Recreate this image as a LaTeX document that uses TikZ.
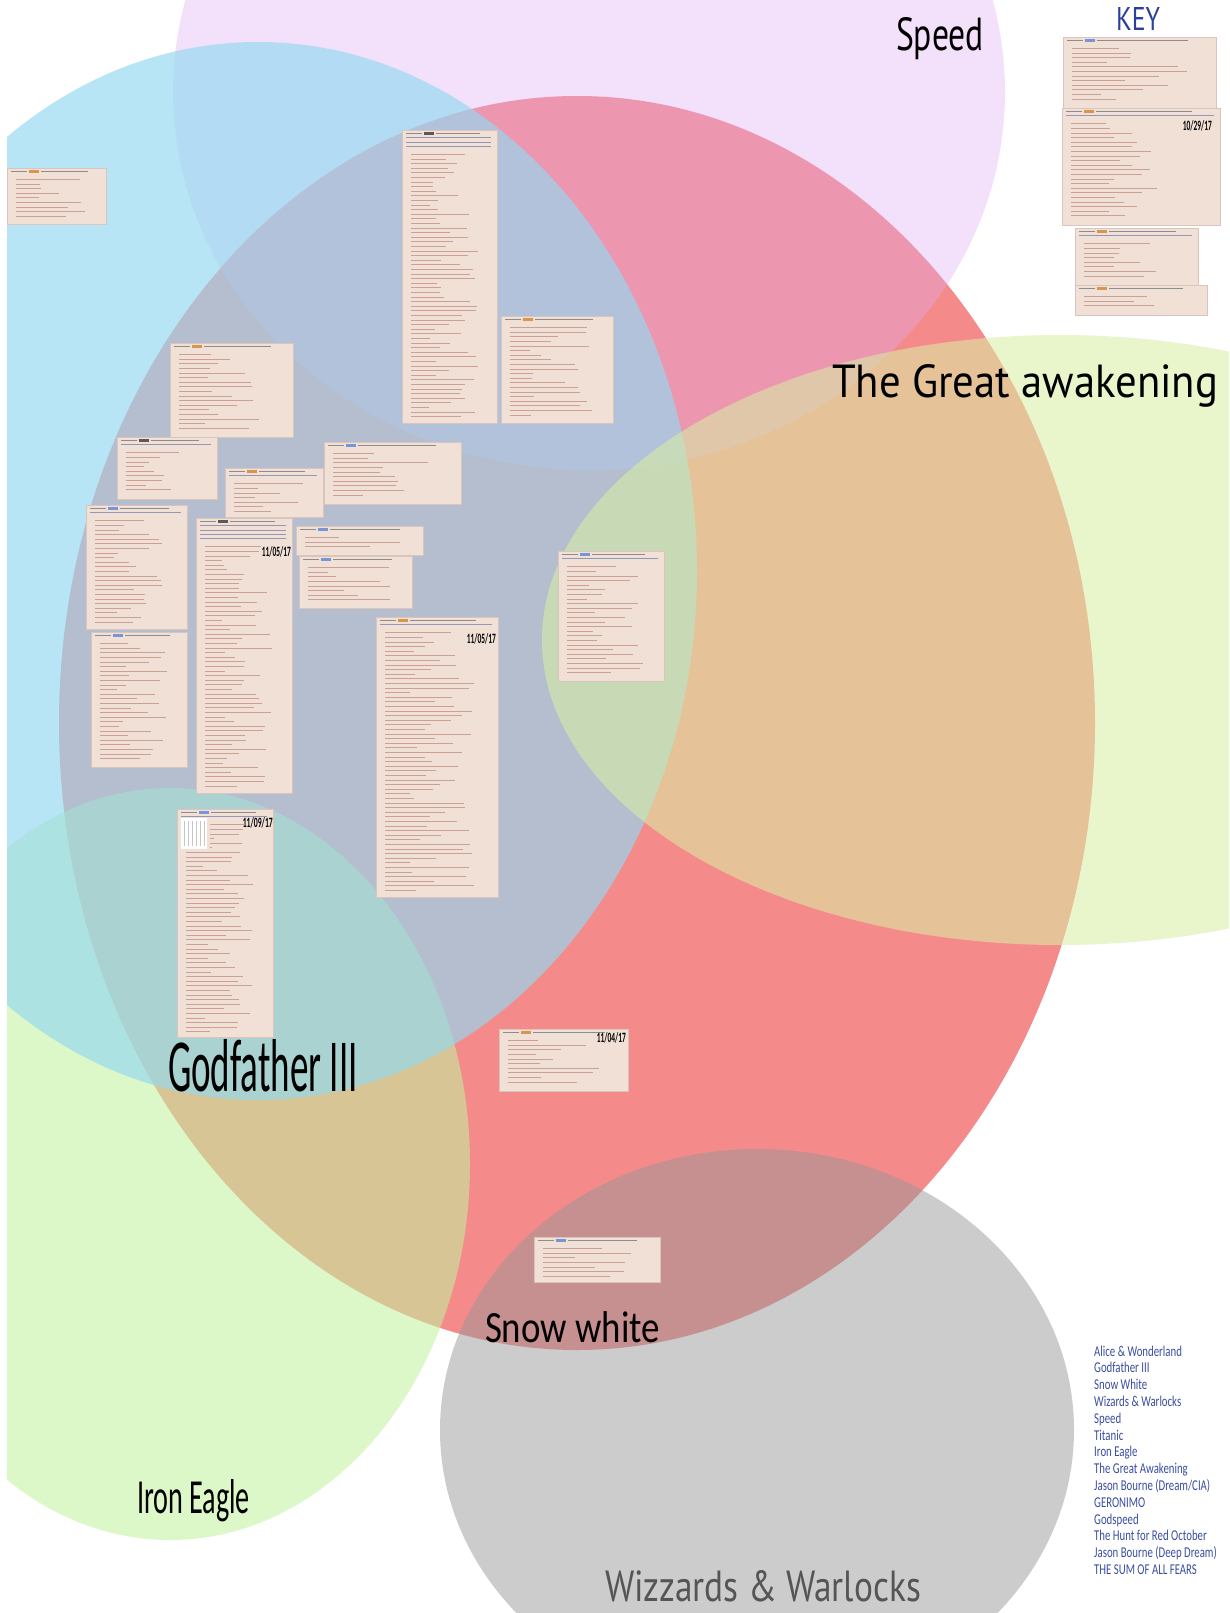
\documentclass[tikz,border=0pt]{standalone}
\usepackage{fontspec}
\setmainfont{Carlito}
\newfontfamily\humfont{PT Sans}
\newfontfamily\condfont{Carlito}
\newfontfamily\narrowfont[FakeStretch=0.72]{Carlito}
\usepackage{graphicx}
\definecolor{redE}{RGB}{245,138,138}
\definecolor{greenL}{RGB}{194,243,159}
\definecolor{violetE}{RGB}{223,171,242}
\definecolor{cyanE}{RGB}{148,217,240}
\definecolor{greenR}{RGB}{217,239,164}
\definecolor{grayE}{RGB}{151,151,151}
\definecolor{postfill}{RGB}{240,224,214}
\definecolor{postedge}{RGB}{218,196,188}
\definecolor{posttext}{RGB}{205,160,150}
\definecolor{posthead}{RGB}{140,140,140}
\definecolor{postlink}{RGB}{150,150,180}
\definecolor{tagO}{RGB}{214,150,80}
\definecolor{tagD}{RGB}{90,90,90}
\definecolor{tagB}{RGB}{120,150,215}
\definecolor{keyblue}{RGB}{43,63,158}
\definecolor{legendblue}{RGB}{58,78,160}
\definecolor{wizgray}{RGB}{85,85,85}
\newcommand{\post}[6]{%
  \fill[postfill] (#1,#2) rectangle (#3,#4);
  \draw[postedge, line width=0.6pt] (#1,#2) rectangle (#3,#4);
  \draw[posthead, line width=1.0pt] ({#1+4},{#2+3.5}) -- ({#1+20},{#2+3.5});
  \fill[#5] ({#1+22},{#2+1.8}) rectangle ({#1+32},{#2+5.2});
  \draw[posthead, line width=1.0pt] ({#1+34},{#2+3.5}) -- ({#1+0.82*(#3-#1)},{#2+3.5});
  \ifnum#6>0
    \foreach \k in {1,...,#6}{%
      \draw[postlink, line width=0.9pt] ({#1+4},{#2+3.5+4.3*\k}) -- ({#3-6},{#2+3.5+4.3*\k});
    }%
  \fi
  \pgfmathsetmacro\hdr{9+4.3*#6}%
  \pgfmathtruncatemacro\nl{(#4-#2-\hdr-3)/4.6}%
  \foreach \i in {1,...,\nl}{%
    \pgfmathsetmacro\yy{#2+\hdr+\i*4.6-2}%
    \pgfmathsetmacro\xe{#1+9+(#3-#1-15)*(0.2+0.65*rnd)}%
    \draw[posttext, line width=1.0pt] ({#1+9},\yy) -- (\xe,\yy);
  }%
}
\tikzset{
  biglabel/.style={anchor=base west, inner sep=0pt, outer sep=0pt},
  datelabel/.style={anchor=base east, inner sep=0pt, text=black},
  legendline/.style={anchor=base west, inner sep=0pt, text=legendblue, font=\narrowfont\fontsize{15}{16}\selectfont}
}
\begin{document}
\begin{tikzpicture}[x=1pt, y=-1pt]
\pgfmathsetseed{7}
\useasboundingbox (0,0) rectangle (1229,1613);
\fill[white] (0,0) rectangle (1229,1613);
\begin{scope}
\clip (7,0) rectangle (1229,1613);
\fill[redE] (577,723) ellipse [x radius=518pt, y radius=627pt];
\fill[greenL, fill opacity=0.57] (170,1164) ellipse [x radius=300pt, y radius=376pt];
\fill[violetE, fill opacity=0.37] (589,92) ellipse [x radius=416pt, y radius=378pt];
\fill[cyanE, fill opacity=0.667] (258,571) ellipse [x radius=439pt, y radius=529pt];
\fill[greenR, fill opacity=0.56] (1060,640) ellipse [x radius=518pt, y radius=305pt];
\fill[grayE, fill opacity=0.49] (757,1430) ellipse [x radius=317pt, y radius=281pt];
\end{scope}
% posts
\post{7}{168}{106}{224}{tagO}{0}
\post{402}{130}{497}{423}{tagD}{3}
\post{501}{316}{613}{423}{tagO}{0}
\post{170}{343}{293}{437}{tagO}{0}
\post{117}{437}{217}{499}{tagD}{1}
\post{225}{468}{323}{517}{tagO}{1}
\post{324}{442}{461}{504}{tagB}{0}
\post{86}{505}{187}{629}{tagB}{1}
\post{196}{518}{292}{793}{tagD}{4}
\post{296}{526}{423}{555}{tagB}{0}
\post{299}{556}{412}{608}{tagB}{0}
\post{91}{632}{187}{767}{tagB}{0}
\post{376}{617}{498}{897}{tagO}{1}
\post{558}{551}{664}{681}{tagB}{1}
\post{177}{809}{273}{1037}{tagB}{1}
\post{499}{1029}{628}{1091}{tagO}{0}
\post{534}{1237}{660}{1282}{tagB}{0}
\post{1063}{37}{1216}{108}{tagB}{0}
\post{1062}{108}{1220}{225}{tagO}{1}
\post{1075}{228}{1198}{285}{tagO}{1}
\post{1075}{285}{1207}{315}{tagO}{0}
% thumbnail in the 11/09/17 post
\fill[postfill] (179,818) rectangle (210,851);
\fill[white] (181,818) rectangle (207,849);
\foreach \xx in {184,188,...,204} \draw[gray!45, line width=0.8pt] (\xx,821) -- (\xx,846);
% dates
\node[datelabel] (d1) at (291,556) {\resizebox{29pt}{10pt}{\condfont\bfseries 11/05/17}};
\node[datelabel] (d2) at (496,643) {\resizebox{29pt}{10pt}{\condfont\bfseries 11/05/17}};
\node[datelabel] (d3) at (273,827) {\resizebox{30pt}{10pt}{\condfont\bfseries 11/09/17}};
\node[datelabel] (d4) at (626,1042) {\resizebox{29pt}{10pt}{\condfont\bfseries 11/04/17}};
\node[datelabel] (d5) at (1212,131) {\resizebox{29pt}{10pt}{\condfont\bfseries 10/29/17}};
% big labels
\node[biglabel] (speed) at (896,51) {\resizebox{88pt}{33pt}{\humfont Speed}};
\node[biglabel] (great) at (832,397) {\resizebox{386pt}{33pt}{\humfont The Great awakening}};
\node[biglabel, text=keyblue] (key) at (1116,31) {\resizebox{44pt}{23pt}{\humfont KEY}};
\node[biglabel] (godfather) at (168,1091) {\resizebox{190pt}{52pt}{\condfont Godfather III}};
\node[biglabel] (snow) at (485,1342) {\resizebox{175pt}{31pt}{\condfont Snow white}};
\node[biglabel] (iron) at (137,1513) {\resizebox{113pt}{34pt}{\condfont Iron Eagle}};
\node[biglabel, text=wizgray, text depth=0pt] (wiz) at (605,1601) {\resizebox{316pt}{31pt}{\humfont Wizzards \& Warlocks}};
% legend
\foreach \t [count=\i] in {Alice \& Wonderland, Godfather III, Snow White, Wizards \& Warlocks, Speed, Titanic, Iron Eagle, The Great Awakening, Jason Bourne (Dream/CIA), GERONIMO, Godspeed, The Hunt for Red October, Jason Bourne (Deep Dream), THE SUM OF ALL FEARS}
  \node[legendline] (leg\i) at (1094,{1356+(\i-1)*16.8}) {\t};
\end{tikzpicture}
\end{document}
